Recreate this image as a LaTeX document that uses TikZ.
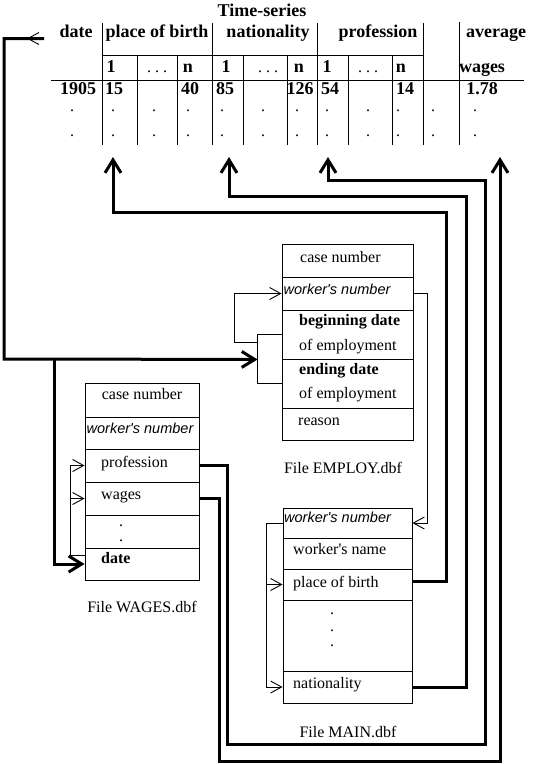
\documentclass[tikz,border=0pt]{standalone}
\usepackage{fontspec}
\setmainfont{Liberation Serif}
\newfontfamily\sansfam{Liberation Sans}
\usetikzlibrary{arrows.meta,calc}
\begin{document}
\begin{tikzpicture}[x=1pt,y=-1pt,
  thickline/.style={line width=3pt},
  thinline/.style={line width=0.9pt},
  gridline/.style={line width=0.9pt},
  bigtip/.style={-{Straight Barb[length=13pt,width=16pt]}},
  thintip/.style={-{Straight Barb[length=11pt,width=12pt]}},
  row/.style={draw, line width=0.9pt, inner sep=0pt},
  txt/.style={inner sep=0pt, anchor=base west, font=\fontsize{16}{19}\selectfont},
  ctxt/.style={inner sep=0pt, anchor=base, font=\fontsize{16}{19}\selectfont},
  btxt/.style={txt, font=\bfseries\fontsize{16}{19}\selectfont},
  itxt/.style={inner sep=0pt, anchor=base west, font=\sansfam\itshape\fontsize{14.5}{17}\selectfont},
  head/.style={inner sep=0pt, anchor=base, font=\bfseries\fontsize{18}{21}\selectfont},
  hdots/.style={inner sep=0pt, anchor=base, font=\fontsize{16}{19}\selectfont},
]
\useasboundingbox (0,0) rectangle (538,764);

% ---------- table ----------
\node[head] (title) at (262,16) {Time-series};
\node[head] (hdate) at (76,37) {date};
\node[head] (hpob) at (157,37) {place of birth};
\node[head] (hnat) at (268,37) {nationality};
\node[head] (hprof) at (378,37) {profession};
\node[head] (havg) at (496,37) {average};

\node[head] (s1) at (111,72) {1};
\node[hdots] (s2) at (157,72) {.\hspace{4pt}.\hspace{4pt}.};
\node[head] (s3) at (188,72) {n};
\node[head] (s4) at (226,72) {1};
\node[hdots] (s5) at (268,72) {.\hspace{4pt}.\hspace{4pt}.};
\node[head] (s6) at (299,72) {n};
\node[head] (s7) at (327,72) {1};
\node[hdots] (s8) at (368,72) {.\hspace{4pt}.\hspace{4pt}.};
\node[head] (s9) at (401,72) {n};
\node[head] (s10) at (482,72) {wages};

\node[head] (v1) at (78,94) {1905};
\node[head] (v2) at (114,94) {15};
\node[head] (v3) at (190,94) {40};
\node[head] (v4) at (225,94) {85};
\node[head] (v5) at (300,94) {126};
\node[head] (v6) at (330,94) {54};
\node[head] (v7) at (405,94) {14};
\node[head] (v8) at (482,94) {1.78};

\foreach \x [count=\i] in {72,113,154,188,222,263,297,327,368,398,433,475}{
  \node[hdots] (da\i) at (\x,111.5) {.};
  \node[hdots] (db\i) at (\x,136.5) {.};
}

\foreach \x in {102,212,317,423}{\draw[gridline] (\x,23) -- (\x,145);}
\draw[gridline] (459,22) -- (459,145);
\foreach \x in {137,177,243,287,348,392}{\draw[gridline] (\x,55) -- (\x,145);}
\draw[gridline] (102,55) -- (423,55);
\draw[gridline] (51,80) -- (524,80);

\coordinate (datecol) at (44,38.5);
\coordinate (pobcol) at (113,157);
\coordinate (natcol) at (229,157);
\coordinate (profcol) at (328,157);
\coordinate (avgcol) at (500,157);

% ---------- EMPLOY ----------
\node[row, minimum width=131pt, minimum height=33pt] (e1) at (347.5,260.5) {};
\node[row, minimum width=131pt, minimum height=33pt] (e2) at (347.5,293.5) {};
\node[row, minimum width=131pt, minimum height=49pt] (e3) at (347.5,334.5) {};
\node[row, minimum width=131pt, minimum height=49pt] (e4) at (347.5,383.5) {};
\node[row, minimum width=131pt, minimum height=32pt] (e5) at (347.5,424) {};
\node[txt] (et1) at (300,262) {case number};
\node[itxt] (et2) at (283.5,294) {worker\textquotesingle s number};
\node[btxt] (et3) at (299,325) {beginning date};
\node[txt] (et4) at (299,350) {of employment};
\node[btxt] (et5) at (299,374) {ending date};
\node[txt] (et6) at (299,398) {of employment};
\node[txt] (et7) at (298,425) {reason};
\node[ctxt] (elab) at (343,473) {File EMPLOY.dbf};

% ---------- WAGES ----------
\node[row, minimum width=114pt, minimum height=34pt] (w1) at (142,400) {};
\node[row, minimum width=114pt, minimum height=32pt] (w2) at (142,433) {};
\node[row, minimum width=114pt, minimum height=33pt] (w3) at (142,465.5) {};
\node[row, minimum width=114pt, minimum height=33pt] (w4) at (142,498.5) {};
\node[row, minimum width=114pt, minimum height=33pt] (w5) at (142,531.5) {};
\node[row, minimum width=114pt, minimum height=32pt] (w6) at (142,564) {};
\node[ctxt] (wt1) at (142,399) {case number};
\node[itxt, anchor=base] (wt2) at (140,433) {worker\textquotesingle s number};
\node[txt] (wt3) at (101,467) {profession};
\node[txt] (wt4) at (101,499.5) {wages};
\node[ctxt] (wt5) at (121,526) {.};
\node[ctxt] (wt6) at (121,541) {.};
\node[btxt] (wt7) at (101,563) {date};
\node[ctxt] (wlab) at (142,612) {File WAGES.dbf};

% ---------- MAIN ----------
\node[row, minimum width=129pt, minimum height=30pt] (m1) at (347.5,523) {};
\node[row, minimum width=129pt, minimum height=31pt] (m2) at (347.5,553.5) {};
\node[row, minimum width=129pt, minimum height=31pt] (m3) at (347.5,584.5) {};
\node[row, minimum width=129pt, minimum height=71pt] (m4) at (347.5,635.5) {};
\node[row, minimum width=129pt, minimum height=32pt] (m5) at (347.5,687) {};
\node[itxt] (mt1) at (284,522) {worker\textquotesingle s number};
\node[txt] (mt2) at (293,554) {worker\textquotesingle s name};
\node[txt] (mt3) at (293,587) {place of birth};
\node[ctxt] (mt4) at (332,614) {.};
\node[ctxt] (mt5) at (332,631) {.};
\node[ctxt] (mt6) at (332,646) {.};
\node[txt] (mt7) at (293,688) {nationality};
\node[ctxt] (mlab) at (348,737) {File MAIN.dbf};

% ---------- thin links ----------
% bracket on EMPLOY dates
\draw[thinline] (e3.west) -- ++(-24,0) |- (e4.west);
\coordinate (br) at ($(e3.south west)+(-24,0)$);
\coordinate (loopstart) at ($(e3.west)+(-24,7.5)$);
\draw[thinline, thintip] (loopstart) -| ($(e2.west)+(-47,0)$) -- (e2.west);
% EMPLOY worker's number -> MAIN worker's number
\draw[thinline, thintip] (e2.east) -- ++(14,0) |- (m1.east);
% MAIN loop
\draw[thinline, thintip] (m1.west) -- ++(-16,0) |- (m5.west);
\draw[thinline, thintip] ($(m1.west)+(-16,0)$) |- (m3.west);
% WAGES loop
\draw[thinline, thintip] ([yshift=9pt]w6.west) -- ++(-14,0) |- (w3.west);
\draw[thinline, thintip] ($([yshift=9pt]w6.west)+(-14,0)$) |- (w4.west);

% ---------- thick links ----------
\draw[thinline, thintip] (datecol) -- (27,38.5);
\draw[thickline, bigtip] (datecol) -| (4,359) -- (br);
\coordinate (junc) at (54,359);
\draw[thickline, bigtip] (junc) |- (w6.west);

\draw[thickline, bigtip] ([yshift=3.5pt]m3.east) -| (446,212) -| (pobcol);
\draw[thickline, bigtip] (m5.east) -| (466,196) -| (natcol);
\draw[thickline, bigtip] (w3.east) -| (227,744) -| (485,180) -| (profcol);
\draw[thickline, bigtip] (w4.east) -| (219,761.5) -| (avgcol);
\end{tikzpicture}
\end{document}
